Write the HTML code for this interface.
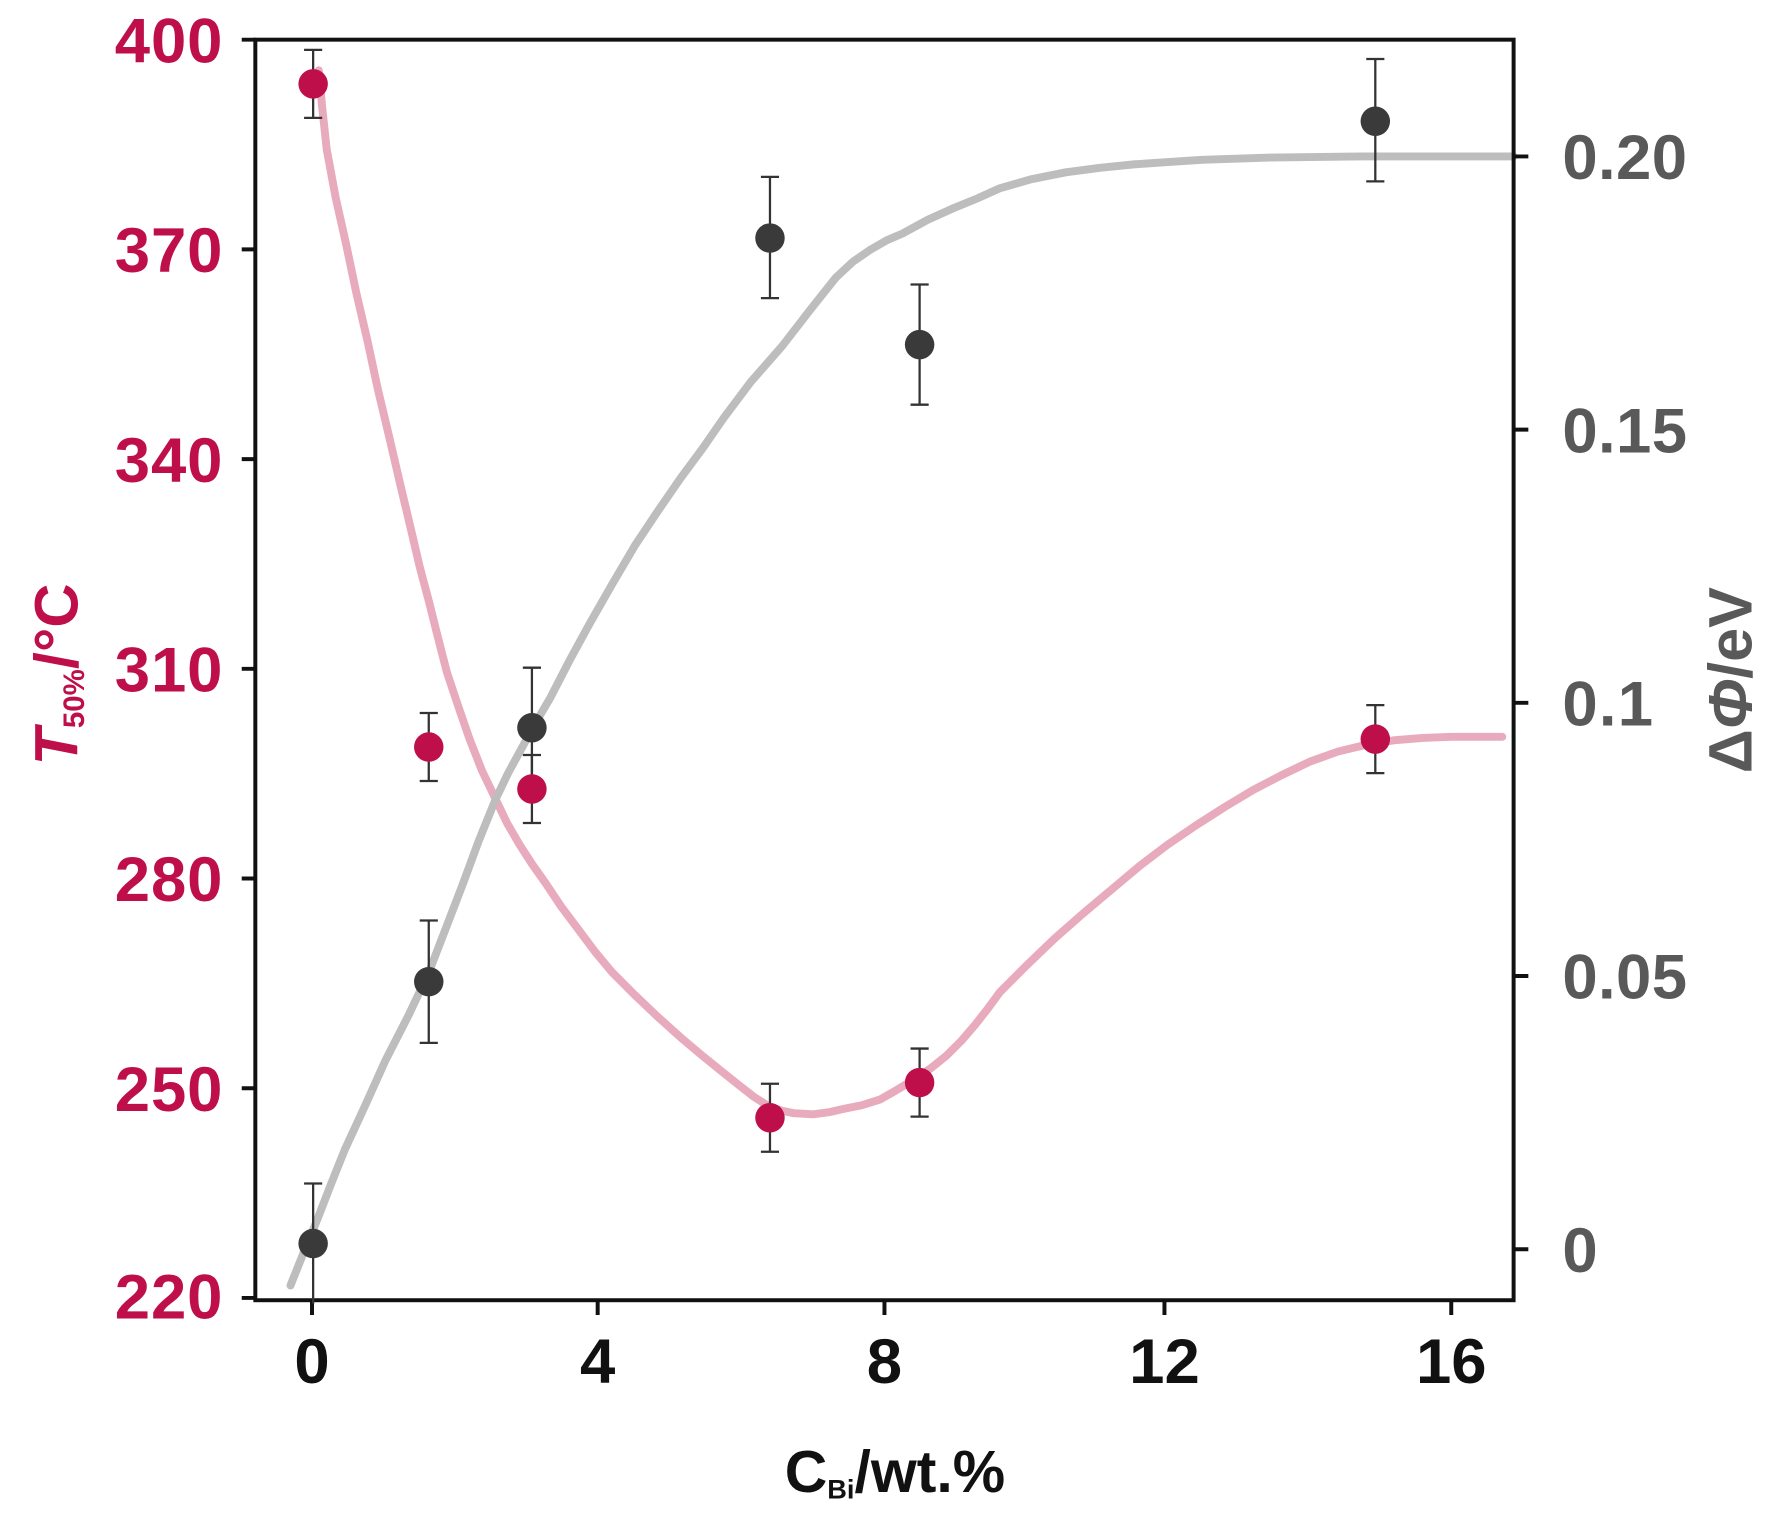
<!DOCTYPE html>
<html><head><meta charset="utf-8"><style>
html,body{margin:0;padding:0;background:#fff;}
svg{display:block;}
text{font-family:"Liberation Sans",sans-serif;font-weight:bold;}
</style></head><body>
<svg width="1778" height="1519" viewBox="0 0 1568 1340" xmlns="http://www.w3.org/2000/svg">
<rect width="1568" height="1340" fill="#fff"/>
<!-- curves -->
<polyline fill="none" stroke="#E8AABD" stroke-width="7" stroke-linejoin="round" stroke-linecap="round"
 points="281,62 284,95 288,132 296,175 305,215 314,258 324,301 333,343 343,385 353,428 363,470 370,500 378,530 386,562 394,593 404,623 414,652 425,680 437,705 447,726 458,745 469,762 481,779 495,800 510,820 525,840 540,858 560,878 580,897 600,915 619,931 635,944 650,956 664,967 678,976 690,980 700,982 717,983 732,981 745,978 760,975 776,970 790,962 805,953 820,943 835,931 848,918 860,904 871,890 882,875 905,852 930,828 955,806 980,785 1005,764 1030,745 1055,728 1080,712 1105,697 1130,684 1155,672 1180,663 1205,657 1230,653 1255,651 1280,650 1325,650"/>
<polyline fill="none" stroke="#BDBDBD" stroke-width="7" stroke-linejoin="round" stroke-linecap="round"
 points="256,1134 268,1104 280,1075 292,1044 304,1014 322,975 340,935 360,896 378,858 393,819 408,780 422,742 437,705 448,682 460,660 472,638 485,616 502,583 520,550 540,515 560,481 580,451 600,422 620,395 638,369 662,337 690,305 714,274 737,245 752,231 768,220 782,212 796,206 818,194 840,184 862,175 882,166 910,158 940,152 970,148 1000,145 1030,143 1060,141 1120,139 1200,138 1335,138"/>
<!-- axes -->
<g stroke="#111" stroke-width="3.5" fill="none">
<rect x="225" y="35" width="1110" height="1112"/>
<path d="M213,35H225M213,220H225M213,405H225M213,590H225M213,775H225M213,960H225M213,1145H225"/>
<path d="M1335,138H1348M1335,379H1348M1335,620H1348M1335,861H1348M1335,1102H1348"/>
<path d="M275,1147V1160M527,1147V1160M780,1147V1160M1027,1147V1160M1280,1147V1160"/>
</g>
<!-- error bars -->
<g stroke="#333" stroke-width="2" fill="none">
<path d="M276,44V104M268,44H284M268,104H284"/>
<path d="M378,629V689M370,629H386M370,689H386"/>
<path d="M469,666V726M461,666H477M461,726H477"/>
<path d="M679,956V1016M671,956H687M671,1016H687"/>
<path d="M811,925V985M803,925H819M803,985H819"/>
<path d="M1213,622V682M1205,622H1221M1205,682H1221"/>
<path d="M276,1044V1150M268,1044H284"/>
<path d="M378,812V920M370,812H386M370,920H386"/>
<path d="M469,589V697M461,589H477M461,697H477"/>
<path d="M679,156V263M671,156H687M671,263H687"/>
<path d="M811,251V357M803,251H819M803,357H819"/>
<path d="M1213,52V160M1205,52H1221M1205,160H1221"/>
</g>
<!-- points -->
<g fill="#BE0F4A">
<circle cx="276" cy="74" r="13"/><circle cx="378" cy="659" r="13"/><circle cx="469" cy="696" r="13"/>
<circle cx="679" cy="986" r="13"/><circle cx="811" cy="955" r="13"/><circle cx="1213" cy="652" r="13"/>
</g>
<g fill="#3A3A3A">
<circle cx="276" cy="1097" r="13"/><circle cx="378" cy="866" r="13"/><circle cx="469" cy="642" r="13"/>
<circle cx="679" cy="210" r="13"/><circle cx="811" cy="304" r="13"/><circle cx="1213" cy="107" r="13"/>
</g>
<!-- left labels -->
<g fill="#BE0F4A" font-size="56" text-anchor="end">
<text x="196" y="55" textLength="95">400</text>
<text x="196" y="240" textLength="95">370</text>
<text x="196" y="425" textLength="95">340</text>
<text x="196" y="610" textLength="95">310</text>
<text x="196" y="795" textLength="95">280</text>
<text x="196" y="980" textLength="95">250</text>
<text x="196" y="1163" textLength="95">220</text>
</g>
<!-- right labels -->
<g fill="#595959" font-size="56">
<text x="1378" y="158" textLength="110">0.20</text>
<text x="1378" y="399" textLength="110">0.15</text>
<text x="1378" y="640" textLength="80">0.1</text>
<text x="1378" y="881" textLength="110">0.05</text>
<text x="1378" y="1122">0</text>
</g>
<!-- x labels -->
<g fill="#111" font-size="56" text-anchor="middle">
<text x="275" y="1220">0</text><text x="527" y="1220">4</text><text x="780" y="1220">8</text>
<text x="1027" y="1220">12</text><text x="1280" y="1220">16</text>
</g>
<text x="692" y="1316" font-size="52" fill="#111">C<tspan font-size="24" dy="6">Bi</tspan><tspan dy="-6">/wt.%</tspan></text>
<text transform="translate(68,595) rotate(-90)" text-anchor="middle" font-size="54" fill="#BE0F4A"><tspan font-style="italic">T</tspan><tspan font-size="26" dy="6">50%</tspan><tspan dy="-6">/°C</tspan></text>
<text transform="translate(1545,600) rotate(-90)" text-anchor="middle" font-size="54" fill="#595959">Δ<tspan font-style="italic">Φ</tspan>/eV</text>
</svg>
</body></html>
